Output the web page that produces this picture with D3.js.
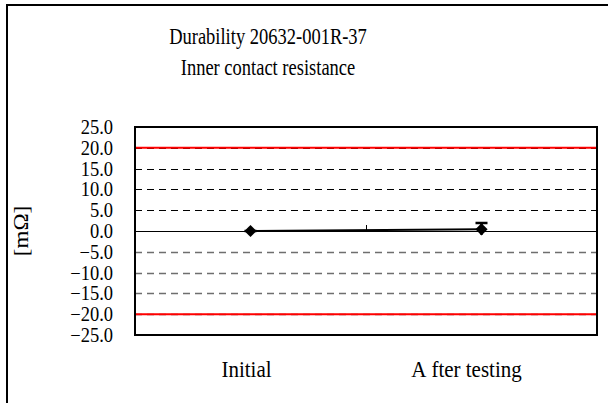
<!DOCTYPE html>
<html>
<head>
<meta charset="utf-8">
<script src="https://cdn.jsdelivr.net/npm/d3@7"></script>
<style>
body { margin: 0; background: #fff; }
text { font-family: "Liberation Serif", "Times New Roman", serif; fill: #000; }
</style>
</head>
<body>
<svg id="chart" width="608" height="403"></svg>
<script>
var categories = ["Initial", "After testing"];
var means = [0.0, 0.4];
var highs = [0.0, 1.9];
var lows = [0.0, -0.9];
var limits = [20, -20];
var yTicks = [25, 20, 15, 10, 5, 0, -5, -10, -15, -20, -25];
var gridVals = [20, 15, 10, 5, -5, -10, -15, -20];
var titleLines = ["Durability 20632-001R-37", "Inner contact resistance"];

var svg = d3.select("#chart");
var margin = {left: 135, right: 11, top: 127, bottom: 68};
var width = 608 - margin.left - margin.right,
    height = 403 - margin.top - margin.bottom;
var stretch = 1.2; // text in the picture is a little taller than wide

// outer chart border (right/bottom run off the picture)
svg.append("rect")
    .attr("x", 7).attr("y", 5)
    .attr("width", 640).attr("height", 440)
    .attr("fill", "none").attr("stroke", "#000").attr("stroke-width", 2);

svg.selectAll(".title")
    .data(titleLines)
  .enter().append("text")
    .attr("class", "title")
    .attr("transform", function(d, i) { return "translate(268," + (44 + i * 31) + ") scale(1," + stretch + ")"; })
    .attr("text-anchor", "middle")
    .style("font-size", "18.5px")
    .text(function(d) { return d; });

var g = svg.append("g").attr("transform", "translate(" + margin.left + "," + margin.top + ")");

var x = d3.scaleBand().domain(categories).range([0, width]);
var y = d3.scaleLinear().domain([-25, 25]).range([height, 0]);
var cx = function(c) { return x(c) + x.bandwidth() / 2; };

g.selectAll(".grid")
    .data(gridVals)
  .enter().append("line")
    .attr("x1", 0).attr("x2", width)
    .attr("y1", function(d) { return Math.round(y(d)) + 0.5; })
    .attr("y2", function(d) { return Math.round(y(d)) + 0.5; })
    .attr("stroke", function(d) { return d > 0 ? "#000" : "#6e6e6e"; })
    .attr("stroke-width", function(d) { return d > 0 ? 1 : 1.4; })
    .attr("stroke-dasharray", "7,5");

g.selectAll(".limit")
    .data(limits)
  .enter().append("line")
    .attr("x1", 0).attr("x2", width)
    .attr("y1", function(d) { return y(d); })
    .attr("y2", function(d) { return y(d); })
    .attr("stroke", "#ff0000")
    .attr("stroke-width", 2);

// zero axis with category divider tick
g.append("line")
    .attr("x1", 0).attr("x2", width)
    .attr("y1", Math.round(y(0)) + 0.5).attr("y2", Math.round(y(0)) + 0.5)
    .attr("stroke", "#000").attr("stroke-width", 1);
g.append("line")
    .attr("x1", Math.round(x(categories[1])) + 0.5).attr("x2", Math.round(x(categories[1])) + 0.5)
    .attr("y1", y(0)).attr("y2", y(0) - 6)
    .attr("stroke", "#000").attr("stroke-width", 1);

var yAxis = d3.axisLeft(y).tickValues(yTicks).tickSize(0).tickPadding(22)
    .tickFormat(d3.format(".1f"));
g.append("g").call(yAxis)
    .call(function(s) { s.select(".domain").remove(); })
    .selectAll("text")
    .style("font-size", "18.5px")
    .attr("font-family", null)
    .attr("transform", "scale(1,1.1)");

var catText = g.selectAll(".cat")
    .data(categories)
  .enter().append("text")
    .attr("transform", function(d, i) { return "translate(" + (cx(d) - (i === 0 ? 4 : 15)) + "," + (height + 42) + ") scale(1,1.1)"; })
    .attr("text-anchor", "middle")
    .style("font-size", "21px");
catText.each(function(d) {
  var t = d3.select(this);
  if (d === "After testing") {
    t.append("tspan").text("A");
    t.append("tspan").attr("dx", 5).text("fter testing");
  } else {
    t.text(d);
  }
});

svg.append("text")
    .attr("transform", "translate(28," + (margin.top + y(0)) + ") rotate(-90) scale(1.15,1)")
    .attr("text-anchor", "middle")
    .style("font-size", "20px")
    .text("[mΩ]");

// error bars
g.selectAll(".err")
    .data(categories)
  .enter().append("path")
    .attr("d", function(d, i) {
      var px = cx(d);
      return "M" + px + "," + y(lows[i]) + "V" + y(highs[i]) +
             "M" + (px - 6) + "," + y(highs[i]) + "H" + (px + 6);
    })
    .attr("stroke", "#000").attr("stroke-width", 2.5).attr("fill", "none");

var line = d3.line()
    .x(function(d, i) { return cx(categories[i]); })
    .y(function(d) { return y(d); });
g.append("path")
    .datum(means)
    .attr("d", line)
    .attr("fill", "none").attr("stroke", "#000").attr("stroke-width", 2);

g.selectAll(".pt")
    .data(means)
  .enter().append("path")
    .attr("transform", function(d, i) { return "translate(" + cx(categories[i]) + "," + y(d) + ")"; })
    .attr("d", d3.symbol().type(d3.symbolDiamond2).size(95))
    .attr("fill", "#000");

// plot frame
g.append("rect")
    .attr("width", width).attr("height", height)
    .attr("fill", "none").attr("stroke", "#000").attr("stroke-width", 2);
</script>
</body>
</html>
